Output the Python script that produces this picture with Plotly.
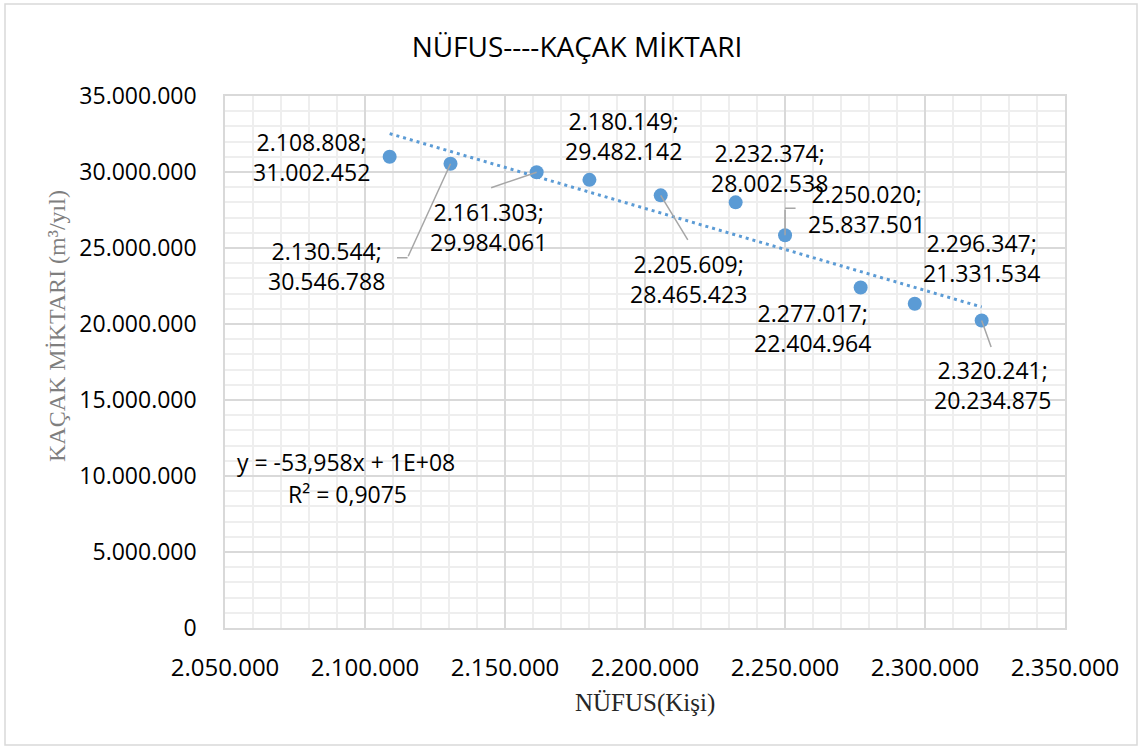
import numpy as np
import plotly.graph_objects as go

# Population (persons) and illegal water use (m³/year)
nufus = [2108808, 2130544, 2161303, 2180149, 2205609,
         2232374, 2250020, 2277017, 2296347, 2320241]
kacak = [31002452, 30546788, 29984061, 29482142, 28465423,
         28002538, 25837501, 22404964, 21331534, 20234875]

x_ticks = [2050000, 2100000, 2150000, 2200000, 2250000, 2300000, 2350000]
y_ticks = [0, 5000000, 10000000, 15000000, 20000000, 25000000, 30000000, 35000000]

BLUE = "#5B9BD5"
FONT = "Open Sans"

# label placement (pixel offsets of label centre from its point)
label_offsets = [(-78, 0), (-124, 102), (-48, 55), (34, -44), (28, 84),
                 (34, -34), (81, -26), (-48, 41), (67, -46), (11, 65)]

# leader lines: (point index, dx, dy, shift_x, shift_y)
leaders = [(1, -43, 94, 0, 0), (1, -12, 0, -43, -94),
           (2, -47, 16, 0, 0),
           (4, 28, 46, 0, 0),
           (6, 0, -27, 0, 0), (6, 12, 0, 0, 27),
           (9, 10, 28, 0, 0)]


def fmt(v):
    return f"{v:,}".replace(",", ".")


# linear trend line
slope, intercept = np.polyfit(nufus, kacak, 1)
tx = np.array([min(nufus), max(nufus)])
ty = slope * tx + intercept
ss_res = np.sum((np.array(kacak) - (slope * np.array(nufus) + intercept)) ** 2)
ss_tot = np.sum((np.array(kacak) - np.mean(kacak)) ** 2)
r2 = 1 - ss_res / ss_tot

fig = go.Figure()
fig.add_trace(go.Scatter(x=tx, y=ty, mode="lines",
                         line=dict(color=BLUE, width=3, dash="3px,4px"),
                         hoverinfo="skip", showlegend=False))
fig.add_trace(go.Scatter(x=nufus, y=kacak, mode="markers",
                         marker=dict(color=BLUE, size=14),
                         showlegend=False))

annotations = []
for (xv, yv), (dx, dy) in zip(zip(nufus, kacak), label_offsets):
    annotations.append(dict(
        x=xv, y=yv, xref="x", yref="y", text=f"{fmt(xv)};<br>{fmt(yv)}",
        showarrow=False, xshift=dx, yshift=-dy,
        xanchor="center", yanchor="middle",
        font=dict(family=FONT, size=23, color="#000000")))

for i, dx, dy, sx, sy in leaders:
    annotations.append(dict(
        x=nufus[i], y=kacak[i], xref="x", yref="y", text="",
        showarrow=True, arrowhead=0, arrowwidth=1.5, arrowcolor="#A6A6A6",
        ax=dx, ay=dy, axref="pixel", ayref="pixel",
        xshift=sx, yshift=sy, standoff=0, startstandoff=0))

slope_txt = f"{slope:.3f}".replace(".", ",")
r2_txt = f"{r2:.4f}".replace(".", ",")
annotations.append(dict(
    x=(346 - 225) / 840, y=(628 - 462) / 532, xref="paper", yref="paper",
    text=f"y = {slope_txt}x + 1E+08", showarrow=False,
    xanchor="center", yanchor="middle",
    font=dict(family=FONT, size=23, color="#000000")))
annotations.append(dict(
    x=(347 - 225) / 840, y=(628 - 494) / 532, xref="paper", yref="paper",
    text=f"R² = {r2_txt}", showarrow=False,
    xanchor="center", yanchor="middle",
    font=dict(family=FONT, size=23, color="#000000")))

# axis titles
annotations.append(dict(
    x=(645 - 225) / 840, y=(628 - 703) / 532, xref="paper", yref="paper",
    text="NÜFUS(Kişi)", showarrow=False,
    xanchor="center", yanchor="middle",
    font=dict(family="Liberation Serif", size=25, color="#262626")))
annotations.append(dict(
    x=(57 - 225) / 840, y=(628 - 326) / 532, xref="paper", yref="paper",
    text="KAÇAK MİKTARI (m³/yıl)", showarrow=False, textangle=-90,
    xanchor="center", yanchor="middle",
    font=dict(family="Liberation Serif", size=24, color="#7F7F7F")))

fig.update_layout(
    width=1142, height=749,
    margin=dict(l=225, r=77, t=96, b=121),
    paper_bgcolor="white", plot_bgcolor="white",
    separators=",.",
    title=dict(text="NÜFUS----KAÇAK MİKTARI", x=577 / 1142, xanchor="center",
               y=1 - 47 / 749, yanchor="middle",
               font=dict(family=FONT, size=28, color="#000000")),
    annotations=annotations,
    shapes=[dict(type="rect", xref="paper", yref="paper",
                 x0=(5 - 225) / 840, x1=(1137 - 225) / 840,
                 y0=(628 - 745) / 532, y1=(628 - 4) / 532,
                 line=dict(color="#D9D9D9", width=1.5))],
    showlegend=False,
)

fig.update_xaxes(range=[2050000, 2350000], tickvals=x_ticks, tickformat=",d",
                 showgrid=True, gridcolor="#D9D9D9", gridwidth=1.5,
                 minor=dict(dtick=10000, showgrid=True, gridcolor="#EEEEEE", gridwidth=1.5),
                 showline=True, linecolor="#D9D9D9", linewidth=1.5, mirror=True,
                 ticks="outside", ticklen=17, tickcolor="rgba(0,0,0,0)",
                 tickfont=dict(family=FONT, size=24, color="#000000"),
                 zeroline=False)
fig.update_yaxes(range=[0, 35000000], tickvals=y_ticks, tickformat=",d",
                 showgrid=True, gridcolor="#D9D9D9", gridwidth=1.5,
                 minor=dict(dtick=1000000, showgrid=True, gridcolor="#EEEEEE", gridwidth=1.5),
                 showline=True, linecolor="#D9D9D9", linewidth=1.5, mirror=True,
                 ticks="outside", ticklen=22, tickcolor="rgba(0,0,0,0)",
                 tickfont=dict(family=FONT, size=23, color="#000000"),
                 zeroline=False)

fig.write_html("out.html")
